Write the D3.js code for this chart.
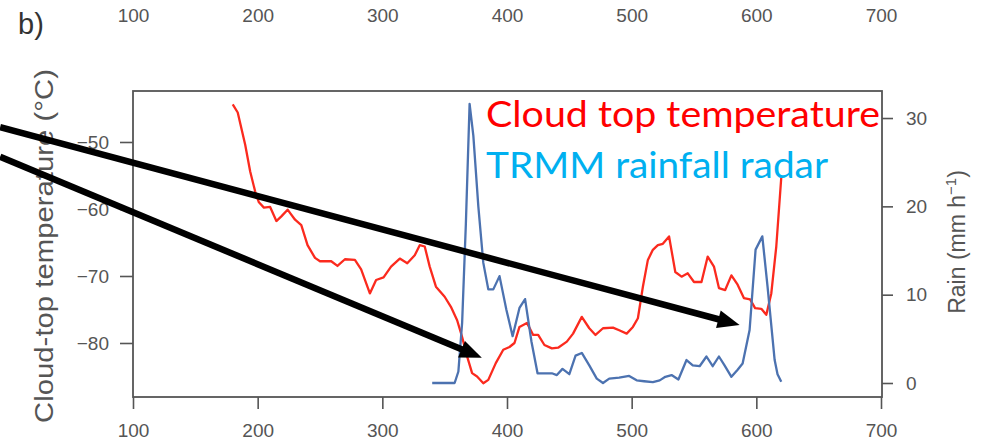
<!DOCTYPE html>
<html>
<head>
<meta charset="utf-8">
<script src="https://cdn.jsdelivr.net/npm/d3@7"></script>
<style>
  html, body { margin: 0; padding: 0; background: #fff; }
  svg { display: block; }
</style>
</head>
<body>
<svg id="chart" width="986" height="441"></svg>
<script>
// Cloud-top temperature along the track (°C)
const tempDistance = [180, 184, 190, 194, 198, 201, 205, 210, 215, 219, 224, 230, 235, 240, 246, 250, 259, 264, 270, 278,
  283, 290, 295, 301, 307, 314, 320, 326, 330, 334, 338, 343, 350, 355, 360, 364, 368, 372, 376, 381,
  385, 391, 397, 402, 406, 410, 416, 421, 425, 430, 436, 441, 448, 453, 460, 466, 471, 477, 485, 490,
  496, 501, 505, 509, 513, 517, 521, 525, 530, 535, 540, 545, 550, 556, 561, 566, 570, 575, 580, 585,
  590, 595, 599, 604, 608, 612, 616, 620];
const tempValues = [-44.4, -45.6, -50.4, -54.4, -57.4, -59.0, -59.8, -59.7, -61.8, -61.1, -60.1, -61.6, -62.4, -65.4, -67.3, -67.8, -67.8, -68.5, -67.5, -67.6,
  -69.0, -72.6, -70.6, -70.2, -68.6, -67.4, -68.1, -66.9, -65.4, -65.6, -68.6, -71.6, -73.1, -74.6, -76.6, -79.1, -82.0, -84.5, -85.0, -86.0,
  -85.5, -83.0, -81.0, -80.6, -80.0, -77.6, -77.0, -78.8, -78.8, -80.3, -80.8, -80.7, -79.8, -78.6, -76.1, -77.8, -78.8, -77.8, -77.7, -78.1,
  -78.6, -77.6, -76.3, -71.6, -67.6, -66.1, -65.4, -65.2, -64.1, -69.4, -70.1, -69.6, -70.9, -70.9, -67.1, -68.6, -71.8, -72.1, -69.9, -71.3,
  -73.3, -73.5, -74.8, -74.9, -75.8, -72.6, -65.6, -55.3];

// TRMM radar rain rate along the track (mm h-1)
const rainDistance = [340, 358, 361, 364, 367, 370, 373, 377, 381, 385, 389, 394, 399.5, 404.5, 410, 414.5, 419.6, 424.5, 431, 436,
  440, 444.5, 450, 455, 460, 466, 472, 477, 482, 490, 498, 504, 510, 517, 522.5, 527, 532, 537.5, 544, 549,
  554.5, 560, 565, 570, 574.5, 580, 585, 589, 594.6, 599.4, 604.8, 609, 614.7, 617, 620];
const rainValues = [0, 0, 1.3, 6.8, 18, 31.6, 28, 20, 13.6, 10.6, 10.6, 12.1, 8.3, 5.3, 8.5, 9.5, 4.7, 1.1, 1.1, 1.1,
  0.9, 1.6, 1.0, 3.1, 3.4, 2.0, 0.5, 0, 0.5, 0.6, 0.8, 0.3, 0.2, 0.1, 0.3, 0.7, 0.9, 0.4, 2.6, 2.0,
  1.9, 3.0, 1.9, 3.0, 2.0, 0.7, 1.5, 2.2, 6.0, 15.1, 16.6, 10.9, 2.6, 1.0, 0.15];

// Axis ticks
const distanceTicks = [100, 200, 300, 400, 500, 600, 700];
const tempTicks = [-50, -60, -70, -80];
const rainTicks = [0, 10, 20, 30];

// Legend entries
const legendLabels = ["Cloud top temperature", "TRMM rainfall radar"];
const legendColors = ["#ff0000", "#00b0f0"];

// Annotation arrows in data units (distance, temperature)
const arrowStarts = [[-6.6, -47.8], [-6.6, -52.2]];
const arrowEnds = [[586.6, -77.3], [379.8, -82.2]];

const svg = d3.select("#chart");
const W = 986, H = 441;
const m = { left: 133, top: 91, right: 104, bottom: 44 };
const x0 = m.left, x1 = W - m.right, y0 = m.top, y1 = H - m.bottom;

const x = d3.scaleLinear().domain([100, 700]).range([x0, x1 - 1]);
const yT = d3.scaleLinear().domain([-88.06, -42.39]).range([y1, y0]);
const yR = d3.scaleLinear().domain([-1.585, 33.06]).range([y1, y0]);

const gray = "#555";
const tickFont = "'Liberation Sans', Arial, sans-serif";

function styleAxis(g) {
  g.selectAll("path.domain").remove();
  g.selectAll(".tick line").attr("stroke", gray).attr("stroke-width", 1.6);
  g.selectAll(".tick text").attr("fill", gray).attr("font-size", 19).attr("font-family", tickFont);
}

// frame
svg.append("rect")
  .attr("x", x0).attr("y", y0).attr("width", x1 - x0).attr("height", y1 - y0)
  .attr("fill", "none").attr("stroke", gray).attr("stroke-width", 1.8);

// bottom axis
svg.append("g").attr("transform", `translate(0,${y1})`)
  .call(d3.axisBottom(x).tickValues(distanceTicks).tickFormat(d3.format("d")).tickSize(12).tickPadding(15))
  .call(styleAxis);

// top axis labels
svg.append("g").attr("transform", `translate(0,26)`)
  .call(d3.axisTop(x).tickValues(distanceTicks).tickFormat(d3.format("d")).tickSize(0).tickPadding(4))
  .call(styleAxis)
  .call(g => g.selectAll(".tick line").remove());

// left axis
svg.append("g").attr("transform", `translate(${x0},0)`)
  .call(d3.axisLeft(yT).tickValues(tempTicks).tickSize(13).tickPadding(11))
  .call(styleAxis);

// right axis
svg.append("g").attr("transform", `translate(${x1},0)`)
  .call(d3.axisRight(yR).tickValues(rainTicks).tickSize(11).tickPadding(13))
  .call(styleAxis);

// axis titles
svg.append("text")
  .attr("transform", `translate(53,${(y0 + y1) / 2 + 2}) rotate(-90)`)
  .attr("text-anchor", "middle").attr("fill", gray)
  .attr("font-family", tickFont).attr("font-size", 25)
  .attr("textLength", 354).attr("lengthAdjust", "spacingAndGlyphs")
  .text("Cloud-top temperature (°C)");

const rt = svg.append("text")
  .attr("transform", `translate(965,${(y0 + y1) / 2 - 2}) rotate(-90)`)
  .attr("text-anchor", "middle").attr("fill", gray)
  .attr("font-family", tickFont).attr("font-size", 23);
rt.append("tspan").text("Rain (mm h");
rt.append("tspan").attr("font-size", 15).attr("dy", -9).text("−1");
rt.append("tspan").attr("dy", 9).text(")");

// panel letter
svg.append("text").attr("x", 18).attr("y", 34)
  .attr("fill", "#333").attr("font-family", tickFont).attr("font-size", 29)
  .text("b)");

// series
const tempLine = d3.line().x(d => x(d[0])).y(d => yT(d[1]));
const rainLine = d3.line().x(d => x(d[0])).y(d => yR(d[1]));

svg.append("path")
  .datum(tempDistance.map((d, i) => [d, tempValues[i]]))
  .attr("d", tempLine).attr("fill", "none")
  .attr("stroke", "#fb2a1e").attr("stroke-width", 2.3).attr("stroke-linejoin", "round");

svg.append("path")
  .datum(rainDistance.map((d, i) => [d, rainValues[i]]))
  .attr("d", rainLine).attr("fill", "none")
  .attr("stroke", "#4c72b0").attr("stroke-width", 2.3).attr("stroke-linejoin", "round");

// legend text
const legendFont = "Lato, 'Open Sans', sans-serif";
const legendX = 486;
const legendY = [127, 178];
const legendLen = [394, 342];
legendLabels.forEach((t, i) => {
  svg.append("text")
    .attr("x", legendX).attr("y", legendY[i])
    .attr("fill", legendColors[i])
    .attr("font-family", legendFont).attr("font-size", 37)
    .attr("textLength", legendLen[i]).attr("lengthAdjust", "spacingAndGlyphs")
    .text(t);
});

// arrows
const headLen = 22, headHalf = 9;
arrowStarts.forEach((s, i) => {
  const e = arrowEnds[i];
  const sx = x(s[0]), sy = yT(s[1]), ex = x(e[0]), ey = yT(e[1]);
  const ang = Math.atan2(ey - sy, ex - sx);
  const bx = ex - headLen * Math.cos(ang), by = ey - headLen * Math.sin(ang);
  svg.append("line")
    .attr("x1", sx).attr("y1", sy).attr("x2", bx + 2 * Math.cos(ang)).attr("y2", by + 2 * Math.sin(ang))
    .attr("stroke", "#000").attr("stroke-width", 6.5);
  const px = -Math.sin(ang) * headHalf, py = Math.cos(ang) * headHalf;
  svg.append("path")
    .attr("d", `M${ex},${ey}L${bx + px},${by + py}L${bx - px},${by - py}Z`)
    .attr("fill", "#000");
});
</script>
</body>
</html>
